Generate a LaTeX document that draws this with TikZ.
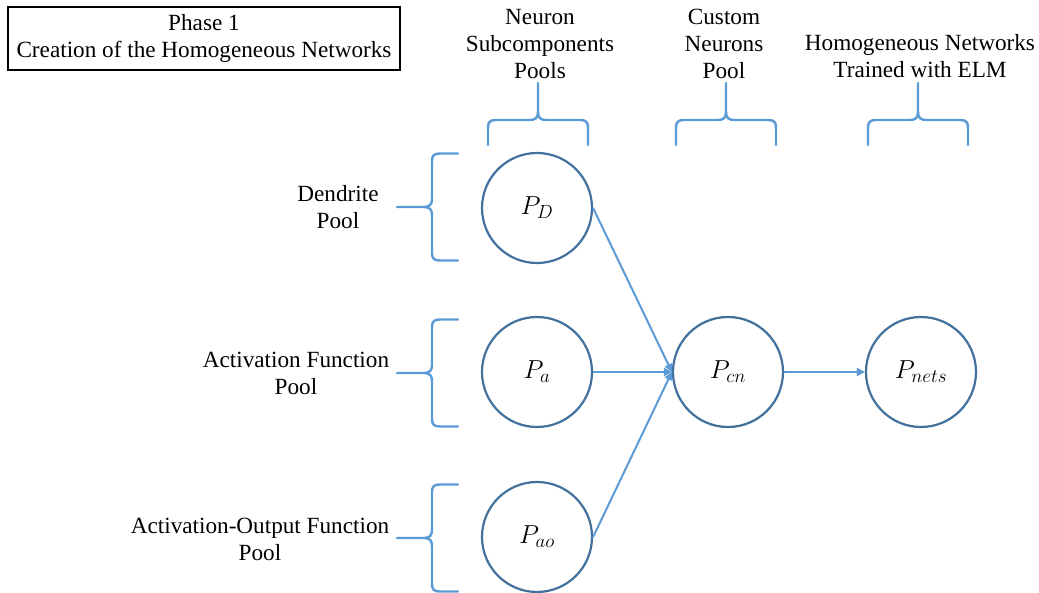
\documentclass[tikz,border=0pt]{standalone}
\usepackage{fix-cm}
\usepackage{fontspec}
\setmainfont{Liberation Serif}
\DeclareMathSizes{26}{26}{19}{15}
\usetikzlibrary{arrows.meta}
\definecolor{bracecol}{HTML}{5B9BD5}
\definecolor{ringcol}{HTML}{41719C}
\tikzset{
  brace/.style={draw=bracecol, line width=2.4pt, line join=round, line cap=round},
  pool/.style={circle, draw=ringcol, line width=2.2pt, minimum size=110pt, inner sep=0pt,
    font=\fontsize{26}{30}\selectfont},
  label/.style={align=center, inner sep=0pt, font=\fontsize{23.2}{27}\selectfont},
  flow/.style={draw=bracecol, line width=2pt, -{Triangle[length=8pt,width=8pt]}},
  topbrace/.pic={
    \draw[brace] (-50,62) -- (-50,45) .. controls (-50,39) and (-48,37) .. (-42,37)
      -- (-8,37) .. controls (-3,37) and (0,35) .. (0,29) -- (0,0)
      (0,29) .. controls (0,35) and (3,37) .. (8,37) -- (42,37)
      .. controls (48,37) and (50,39) .. (50,45) -- (50,62);
  },
  leftbrace/.pic={
    \draw[brace] (61,-53.5) -- (43,-53.5) .. controls (37,-53.5) and (35,-51.5) .. (35,-46)
      -- (35,-8) .. controls (35,-3) and (33,0) .. (27,0) -- (0,0)
      (27,0) .. controls (33,0) and (35,3) .. (35,8) -- (35,46)
      .. controls (35,51.5) and (37,53.5) .. (43,53.5) -- (61,53.5);
  }
}
\begin{document}
\begin{tikzpicture}[x=1pt, y=-1pt]
\useasboundingbox (0,0) rectangle (1039,593);

% phase title
\draw[line width=2.4pt] (8,7) rectangle (400,70);
\node[label] (title) at (204,38) {Phase 1\\Creation of the Homogeneous Networks};

% column headings
\node[label] (hsub) at (540,44) {Neuron\\Subcomponents\\Pools};
\node[label] (hcn) at (724,44) {Custom\\Neurons\\Pool};
\node[label] (hnets) at (920,56) {Homogeneous Networks\\Trained with ELM};

\pic at (538,83) {topbrace};
\pic at (726,83) {topbrace};
\pic at (918,83) {topbrace};

% row labels
\node[label] (ldend) at (338,207) {Dendrite\\Pool};
\node[label] (lact) at (296,373) {Activation Function\\Pool};
\node[label] (lao) at (260,539) {Activation-Output Function\\Pool};

\pic at (397,207) {leftbrace};
\pic at (397,373) {leftbrace};
\pic at (397,538) {leftbrace};

% pools
\node[pool] (pd) at (537,208) {$P_D$};
\node[pool] (pa) at (537,372) {$P_a$};
\node[pool] (pao) at (537,537) {$P_{ao}$};
\node[pool] (pcn) at (728,372) {$P_{cn}$};
\node[pool] (pnets) at (921,372) {$P_{nets}$};

% connections
\draw[flow] (pd.east) -- (pcn.west);
\draw[flow] (pa.east) -- (pcn.west);
\draw[flow] (pao.east) -- (pcn.west);
\draw[flow] (pcn.east) -- (pnets.west);
\end{tikzpicture}
\end{document}
